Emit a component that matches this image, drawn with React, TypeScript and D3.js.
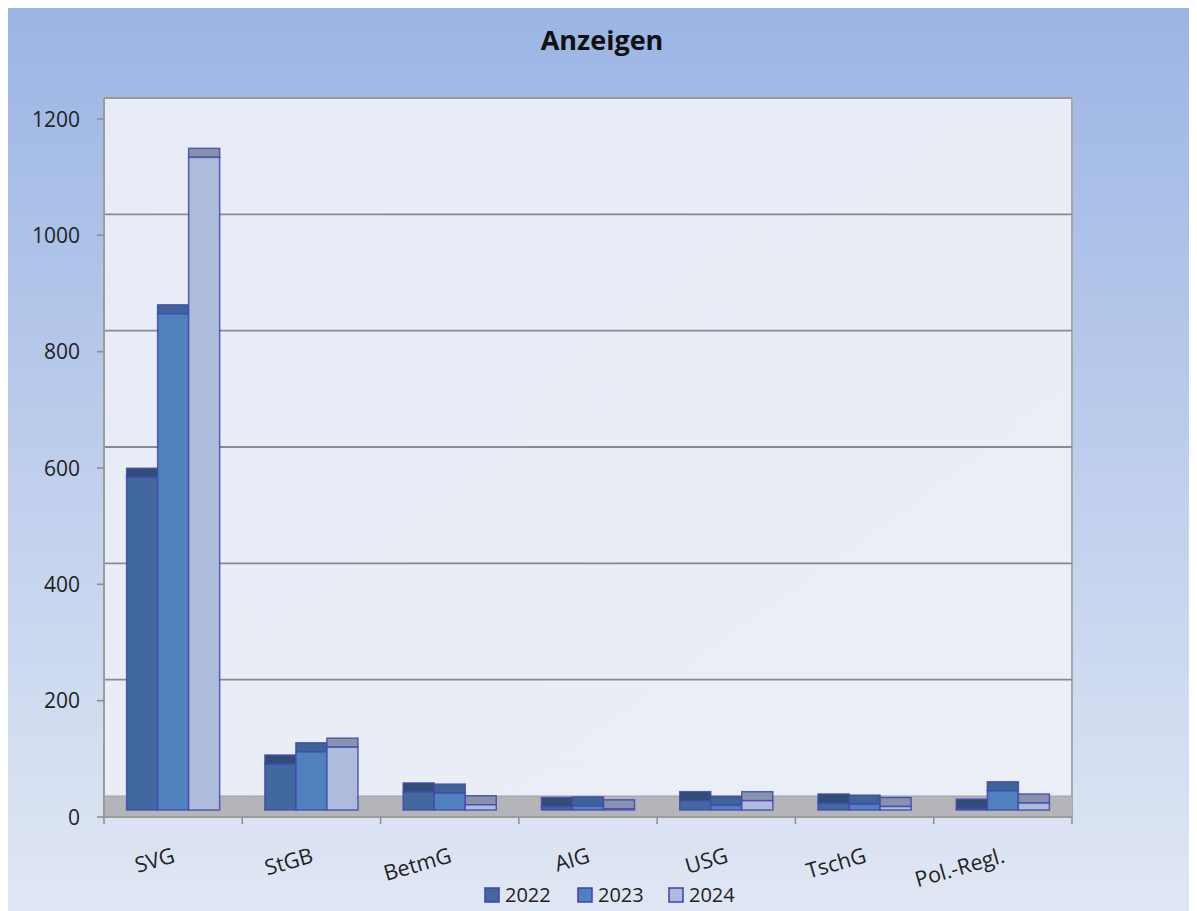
import React from 'react';
import * as d3 from 'd3';

const categories = ['SVG', 'StGB', 'BetmG', 'AIG', 'USG', 'TschG', 'Pol.-Regl.'];
const years = ['2022', '2023', '2024'];
const values2022 = [572, 79, 31, 6, 16, 12, 3];
const values2023 = [853, 100, 29, 7, 8, 10, 33];
const values2024 = [1122, 108, 9, 2, 16, 6, 12];
const yTicks = [0, 200, 400, 600, 800, 1000, 1200];

const series = [values2022, values2023, values2024];
const frontColors = ['#41699d', '#4f81bd', '#adbcdb'];
const topColors = ['#2f4e76', '#3c6497', '#8793ad'];

const W = 1189;
const H = 903;
const wallLeft = 96;
const wallRight = 1064;
const floorFront = 809;
const backDepth = 21; // back wall sits this far above the front axis
const barInset = 7; // front face of bars behind floor front
const barDepth = 9; // height of the visible top face
const font = '"Open Sans", "Noto Sans", sans-serif';

const App: React.FC = () => {
  const y = d3.scaleLinear().domain([0, 1200]).range([floorFront, 111]);
  const x = d3.scaleBand<string>()
    .domain(categories)
    .range([wallLeft, wallRight])
    .paddingInner(0.327)
    .paddingOuter(0.1635);
  const xi = d3.scaleBand<string>().domain(years).range([0, x.bandwidth()]);
  const step = (wallRight - wallLeft) / categories.length;
  const wallTop = y(1200) - backDepth;
  const barBase = floorFront - barInset;

  return (
    <svg width={W} height={H} style={{ display: 'block' }}>
      <defs>
        <linearGradient id="bg" x1="0" y1="0" x2="0" y2="1">
          <stop offset="0" stopColor="#9bb5e4" />
          <stop offset="1" stopColor="#e0e7f4" />
        </linearGradient>
        <linearGradient id="wall" x1="0" y1="0" x2="1" y2="1">
          <stop offset="0" stopColor="#e8ecf6" />
          <stop offset="1" stopColor="#eaeef7" />
        </linearGradient>
      </defs>
      <rect x={0} y={0} width={W} height={H} fill="url(#bg)" />

      <text x={594} y={42} textAnchor="middle" fontFamily={font} fontWeight="bold" fontSize={27} fill="#111">
        Anzeigen
      </text>

      {/* back wall */}
      <rect x={wallLeft} y={wallTop} width={wallRight - wallLeft} height={floorFront - backDepth - wallTop}
        fill="url(#wall)" />
      <line x1={wallLeft} x2={wallRight} y1={wallTop} y2={wallTop} stroke="#9a9a9a" strokeWidth={2} />
      <line x1={wallRight} x2={wallRight} y1={wallTop} y2={floorFront} stroke="#a8a8a8" strokeWidth={2} />
      {yTicks.filter(t => t > 0 && t < 1200).map(t => (
        <line key={t} x1={wallLeft} x2={wallRight} y1={y(t) - backDepth} y2={y(t) - backDepth}
          stroke="#8a8a8a" strokeWidth={1.8} />
      ))}

      {/* floor */}
      <rect x={wallLeft} y={floorFront - backDepth} width={wallRight - wallLeft} height={backDepth}
        fill="#b3b5b9" />
      <line x1={wallLeft} x2={wallRight} y1={floorFront - backDepth} y2={floorFront - backDepth}
        stroke="#a0a2a6" strokeWidth={1} />
      <line x1={wallLeft} x2={wallRight} y1={floorFront} y2={floorFront} stroke="#9c9c9c" strokeWidth={2} />

      {/* y axis */}
      <line x1={wallLeft} x2={wallLeft} y1={wallTop} y2={floorFront} stroke="#9c9c9c" strokeWidth={2} />
      {yTicks.map(t => (
        <g key={t}>
          <line x1={wallLeft - 7} x2={wallLeft} y1={y(t)} y2={y(t)} stroke="#8c8c8c" strokeWidth={1.5} />
          <text x={72} y={y(t)} dy="0.36em" textAnchor="end" fontFamily={font} fontSize={21} fill="#222">
            {t}
          </text>
        </g>
      ))}

      {/* category ticks */}
      {d3.range(categories.length + 1).map(i => (
        <line key={i} x1={wallLeft + i * step} x2={wallLeft + i * step} y1={floorFront} y2={floorFront + 7}
          stroke="#8c8c8c" strokeWidth={1.5} />
      ))}

      {/* bars */}
      {categories.map((c, ci) => (
        <g key={c} transform={`translate(${x(c)},0)`}>
          {years.map((yr, si) => {
            const v = series[si][ci];
            const frontTop = y(v) - barInset;
            const bx = xi(yr) as number;
            const bw = xi.bandwidth();
            return (
              <g key={yr}>
                <rect x={bx} y={frontTop - barDepth} width={bw} height={barDepth} fill={topColors[si]}
                  stroke="#4545b2" strokeOpacity={0.85} strokeWidth={1.5} />
                <rect x={bx} y={frontTop} width={bw} height={barBase - frontTop} fill={frontColors[si]}
                  stroke="#4545b2" strokeOpacity={0.85} strokeWidth={1.5} />
              </g>
            );
          })}
        </g>
      ))}

      {/* category labels */}
      {categories.map(c => {
        const cx = (x(c) as number) + x.bandwidth() / 2 + 3;
        return (
          <text key={c} transform={`translate(${cx},854) rotate(-16)`} textAnchor="end"
            fontFamily={font} fontSize={21.5} fill="#222">
            {c}
          </text>
        );
      })}

      {/* legend */}
      {years.map((yr, i) => {
        const lx = [477, 570, 661][i];
        return (
          <g key={yr}>
            <rect x={lx} y={880} width={14} height={14} fill={frontColors[i]} stroke="#4040b0" strokeWidth={1.5} />
            <text x={lx + 20} y={894} fontFamily={font} fontSize={20} fill="#222">{yr}</text>
          </g>
        );
      })}
    </svg>
  );
};

export default App;
